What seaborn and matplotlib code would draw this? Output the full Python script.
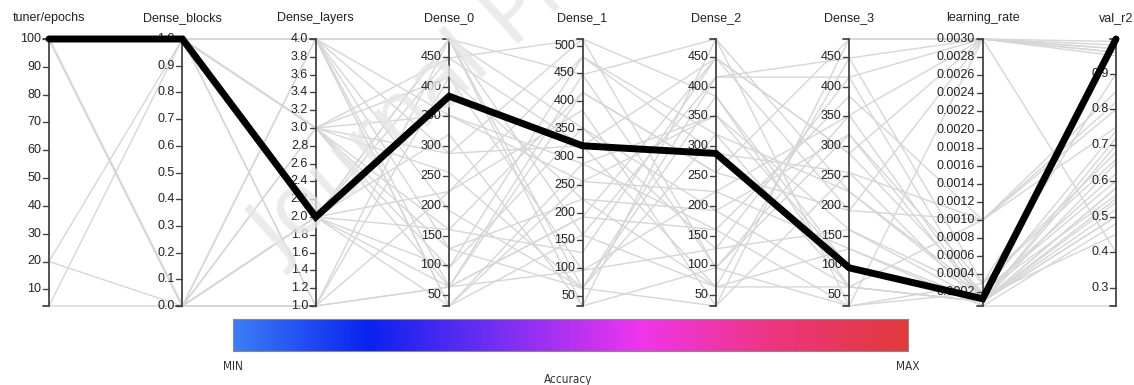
import numpy as np
import pandas as pd
import matplotlib
matplotlib.use("Agg")
import matplotlib.pyplot as plt
from matplotlib.colors import LinearSegmentedColormap
import seaborn as sns

# --- dados (um valor por trial, na ordem dos eixos) ---
axis_names = ["tuner/epochs", "Dense_blocks", "Dense_layers", "Dense_0", "Dense_1",
              "Dense_2", "Dense_3", "learning_rate", "val_r2"]

epochs = [100, 100, 100, 100, 100, 100, 100, 100, 100, 100, 100, 20, 20, 4, 4, 100,
          100, 100, 100, 100, 100, 100, 100, 100, 100, 100, 100, 100, 100, 100, 100, 100]
blocks = [1, 1, 1, 1, 1, 1, 1, 0, 0, 0, 0, 1, 0, 1, 0, 1,
          1, 0, 1, 1, 0, 1, 1, 0, 1, 1, 0, 1, 1, 0, 1, 1]
layers = [4, 4, 3, 3, 2, 2, 1, 4, 3, 2, 1, 4, 2, 3, 1, 4,
          3, 2, 2, 4, 3, 1, 3, 4, 2, 4, 2, 3, 2, 1, 4, 3]
dense_0 = [480, 480, 448, 288, 480, 224, 64, 32, 128, 96, 480, 64, 320, 352, 64, 192,
           64, 160, 448, 32, 256, 416, 96, 288, 64, 352, 480, 160, 32, 224, 128, 416]
dense_1 = [448, 160, 512, 320, 64, 384, 416, 288, 224, 480, 352, 96, 32, 256, 192, 64,
           448, 128, 320, 256, 64, 96, 352, 512, 192, 288, 32, 416, 160, 480, 64, 224]
dense_2 = [480, 416, 96, 448, 384, 32, 256, 352, 64, 288, 192, 128, 480, 224, 160, 320,
           96, 448, 64, 352, 32, 224, 128, 384, 448, 160, 96, 256, 64, 320, 416, 192]
dense_3 = [32, 448, 352, 288, 96, 480, 192, 160, 64, 256, 320, 416, 224, 128, 384, 64,
           32, 192, 448, 96, 256, 352, 160, 64, 288, 32, 320, 480, 128, 224, 416, 64]
learning_rate = [0.003, 0.003, 0.0001, 0.003, 0.0001, 0.003, 0.001, 0.0002, 0.0001, 0.001,
                 0.0003, 0.0001, 0.00015, 0.00005, 0.001, 0.0001, 0.0002, 0.003, 0.0003,
                 0.0001, 0.00005, 0.003, 0.0001, 0.001, 0.0002, 0.0003, 0.0001, 0.003,
                 0.0001, 0.0002, 0.003, 0.0001]
val_r2 = [0.99, 0.97, 0.72, 0.96, 0.55, 0.95, 0.85, 0.62, 0.50, 0.80, 0.68, 0.58, 0.45,
          0.25, 0.75, 0.65, 0.60, 0.40, 0.90, 0.52, 0.48, 0.98, 0.70, 0.82, 0.56, 0.66,
          0.54, 0.96, 0.50, 0.74, 0.97, 0.58]

# melhor trial (linha preta)
best = [100, 1, 2, 384, 320, 288, 96, 0.00013, 0.997]

# ticks de cada eixo
ticks = [
    list(range(10, 101, 10)),
    [round(0.1 * i, 1) for i in range(11)],
    [round(1 + 0.2 * i, 1) for i in range(16)],
    list(range(50, 451, 50)),
    list(range(50, 501, 50)),
    list(range(50, 451, 50)),
    list(range(50, 451, 50)),
    [round(0.0002 * i, 4) for i in range(1, 16)],
    [0.3, 0.4, 0.5, 0.6, 0.7, 0.8, 0.9],
]
fmts = ["{:.0f}", "{:.1f}", "{:.1f}", "{:.0f}", "{:.0f}", "{:.0f}", "{:.0f}", "{:.4f}", "{:.1f}"]

cols = [epochs, blocks, layers, dense_0, dense_1, dense_2, dense_3, learning_rate, val_r2]
df = pd.DataFrame({n: c for n, c in zip(axis_names, cols)})
df.loc[len(df)] = best
best_id = len(df) - 1

lo = df.min()
hi = df.max()
norm = (df - lo) / (hi - lo)
norm["trial"] = norm.index
long = norm.melt(id_vars="trial", var_name="axis", value_name="v")
long["x"] = long["axis"].map({n: i for i, n in enumerate(axis_names)})

sns.set_style("white")
plt.rcParams["font.family"] = ["Liberation Sans", "DejaVu Sans"]

W, H = 1134, 385
fig = plt.figure(figsize=(W / 100, H / 100), dpi=100)
x0, x1, ytop, ybot = 49, 1116, 39, 306
ax = fig.add_axes([x0 / W, 1 - ybot / H, (x1 - x0) / W, (ybot - ytop) / H])
ax.set_xlim(0, len(axis_names) - 1)
ax.set_ylim(0, 1)
ax.axis("off")

sns.lineplot(data=long[long["trial"] != best_id], x="x", y="v", units="trial",
             estimator=None, color="#d6d6d6", linewidth=1.0, sort=True, ax=ax, legend=False)
sns.lineplot(data=long[long["trial"] == best_id], x="x", y="v", estimator=None,
             color="black", linewidth=5, sort=True, ax=ax, legend=False)
for ln in ax.lines:
    ln.set_clip_on(False)
ax.lines[-1].set_zorder(6)
ax.lines[-1].set_solid_joinstyle("miter")

# eixos verticais
dx = 6 * (len(axis_names) - 1) / (x1 - x0)
dy = 21 / (ybot - ytop)
for i, name in enumerate(axis_names):
    ax.plot([i, i], [0, 1], color="#444444", lw=1.3, clip_on=False, zorder=3)
    for yy in (0, 1):
        ax.plot([i - dx, i], [yy, yy], color="#444444", lw=1.3, clip_on=False, zorder=3)
    for t in ticks[i]:
        yy = (t - lo[name]) / (hi[name] - lo[name])
        ax.plot([i - dx, i], [yy, yy], color="#444444", lw=1.0, clip_on=False, zorder=3)
        ax.text(i - dx - 0.012, yy, fmts[i].format(t), ha="right", va="center",
                fontsize=9, color="#222222", zorder=4)
    ax.text(i, 1 + dy, name, ha="center", va="center", fontsize=9, color="#222222")

# marca d'água (por baixo da linha preta)
ax.text(280 / W, 1 - 263 / H, "Journal Pre-proof", transform=fig.transFigure,
        rotation=42, rotation_mode="anchor", ha="left", va="baseline", fontsize=60,
        color="#e6e6e6", alpha=0.8, zorder=5, family="DejaVu Sans", clip_on=False)

# barra de cores
cmap = LinearSegmentedColormap.from_list(
    "acc", ["#3b7ef6", "#0a22ef", "#7a2ff4", "#ee35ee", "#ee3580", "#e23a3a"])
cax = fig.add_axes([233 / W, 1 - 351 / H, (908 - 233) / W, 32 / H])
cax.imshow(np.linspace(0, 1, 256)[None, :], aspect="auto", cmap=cmap, extent=[0, 1, 0, 1])
cax.set_xticks([])
cax.set_yticks([])
for s in cax.spines.values():
    s.set_color("#888888")
    s.set_linewidth(0.8)
fig.text(233 / W, 1 - 366 / H, "MIN", ha="center", va="center", fontsize=8.5,
         family="DejaVu Sans", fontstretch="condensed", color="#333333")
fig.text(908 / W, 1 - 366 / H, "MAX", ha="center", va="center", fontsize=8.5,
         family="DejaVu Sans", fontstretch="condensed", color="#333333")
fig.text(568 / W, 1 - 379 / H, "Accuracy", ha="center", va="center", fontsize=8.5,
         family="DejaVu Sans", fontstretch="condensed", color="#333333")

fig.savefig("out.png", dpi=100)
